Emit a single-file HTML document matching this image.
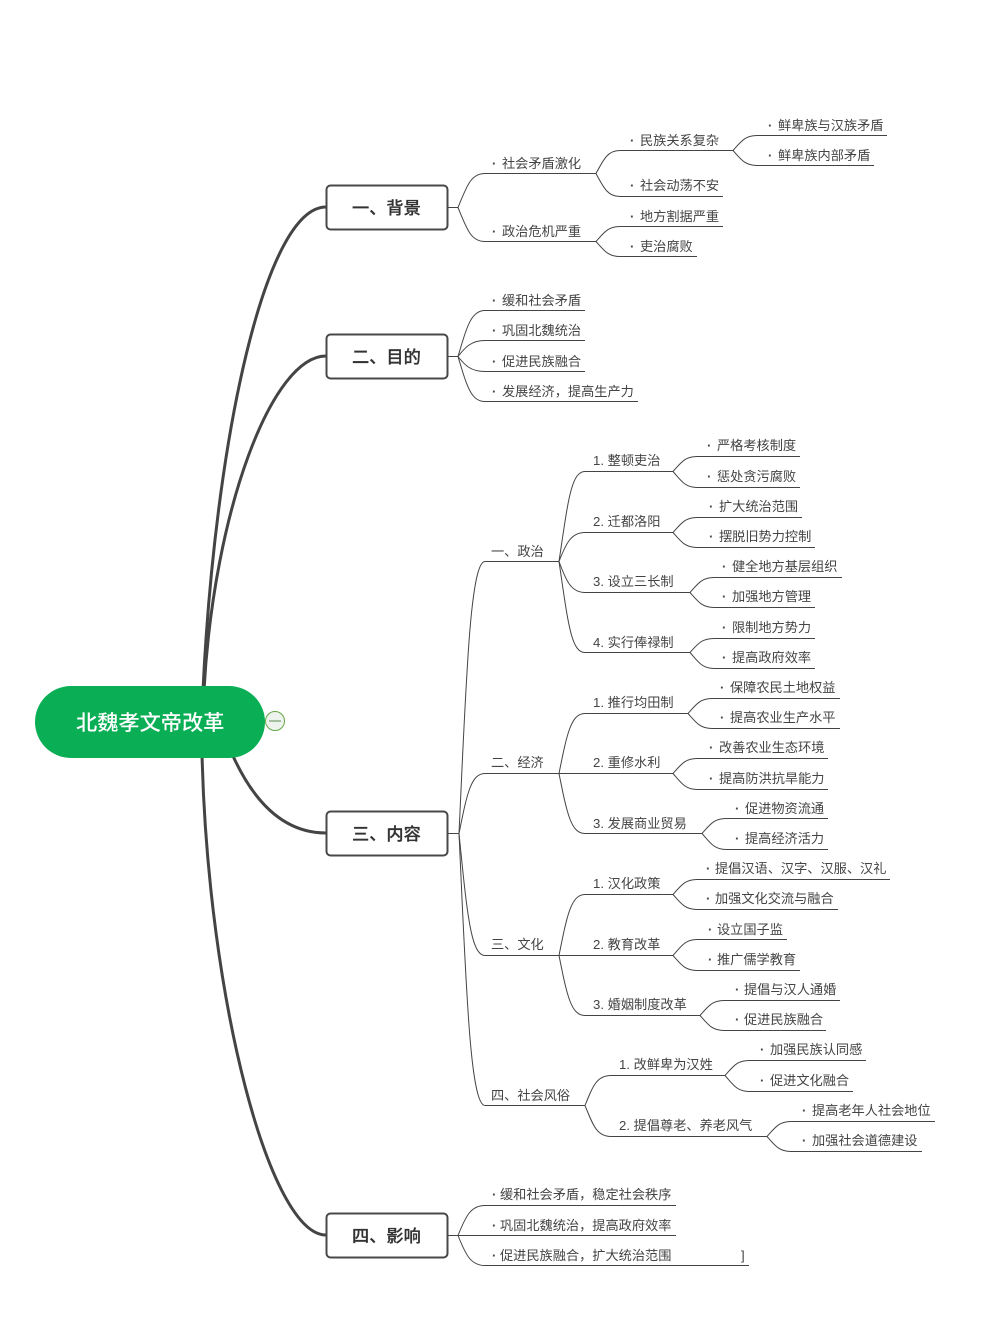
<!DOCTYPE html>
<html lang="zh">
<head>
<meta charset="utf-8">
<title>北魏孝文帝改革</title>
<style>
html,body{margin:0;padding:0;background:#fff;width:1000px;height:1331px;overflow:hidden}
svg{display:block}
text{font-family:"Liberation Sans","Noto Sans CJK SC",sans-serif;font-size:13.2px;fill:#444}
.b{font-size:17.2px;font-weight:500;fill:#333;stroke:#333;stroke-width:.25}
.r{font-size:21.2px;font-weight:500;fill:#fff}
.d{font-weight:700}
.l{fill:none;stroke:#444;stroke-width:1}
.m{fill:none;stroke:#444;stroke-width:3}
.box{fill:#fff;stroke:#484848;stroke-width:2}
</style>
</head>
<body>
<svg width="1000" height="1331" viewBox="0 0 1000 1331" xmlns="http://www.w3.org/2000/svg">
<!-- main connectors -->
<path class="m" d="M203 690C215 440 265 207 326 207"/>
<path class="m" d="M204 690C214 510 272 356 326 356"/>
<path class="m" d="M233 756C254 802 284 833 326 833"/>
<path class="m" d="M202 754C208 1000 270 1235 326 1235"/>
<!-- root -->
<rect x="35" y="686" width="230" height="72" rx="36" ry="36" fill="#0aae54"/>
<text class="r" x="76" y="730">北魏孝文帝改革</text>
<circle cx="275" cy="721" r="9.5" fill="#eef3ee" stroke="#63a845" stroke-width="1"/>
<path d="M269 721H281" stroke="#5c8a50" stroke-width="1"/>
<!-- boxes -->
<rect class="box" x="326.500" y="185.500" width="121" height="44" rx="4"/>
<rect class="box" x="326.500" y="334.500" width="121" height="44" rx="4"/>
<rect class="box" x="326.500" y="811.500" width="121" height="44" rx="4"/>
<rect class="box" x="326.500" y="1213.500" width="121" height="44" rx="4"/>
<text class="b" x="352" y="214">一、背景</text>
<text class="b" x="352" y="363">二、目的</text>
<text class="b" x="352" y="840">三、内容</text>
<text class="b" x="352" y="1242">四、影响</text>

<g transform="translate(0,.5)">
<!-- box 1 -->
<path class="l" d="M447 207H458c9 -22 13 -34 27 -34H596"/>
<path class="l" d="M458 207c9 22 13 34 27 34H596"/>
<path class="l" d="M596 173c8 -15 12 -23 24 -23H733"/>
<path class="l" d="M596 173c8 15 12 23 24 23H723"/>
<path class="l" d="M596 241c8 -9 12 -15 24 -15H723"/>
<path class="l" d="M596 241c8 9 12 15 24 15H697"/>
<path class="l" d="M733 150c8 -9 12 -15 24 -15H887"/>
<path class="l" d="M733 150c8 9 12 15 24 15H874"/>
<!-- box 2 -->
<path class="l" d="M447 356H458c9 -30 13 -46 27 -46H585"/>
<path class="l" d="M458 356c7 -9 13 -16 27 -16H585"/>
<path class="l" d="M458 356c7 9 13 15 27 15H585"/>
<path class="l" d="M458 356c9 30 13 45 27 45H638"/>
<!-- box 3 -->
<path class="l" d="M447 833H459c7 -150 11 -272 26 -272H559"/>
<path class="l" d="M459 833c8 -40 12 -60 26 -60H559"/>
<path class="l" d="M459 833c8 80 12 122 26 122H559"/>
<path class="l" d="M459 833c7 150 11 272 26 272H585"/>
<!-- politics -->
<path class="l" d="M559 561c9 -60 12 -90 26 -90H673"/>
<path class="l" d="M559 561c7 -18 12 -29 26 -29H673"/>
<path class="l" d="M559 561c7 19 12 31 26 31H690"/>
<path class="l" d="M559 561c9 61 12 91 26 91H690"/>
<path class="l" d="M673 471c8 -9 12 -15 24 -15H800"/>
<path class="l" d="M673 471c8 9 12 16 24 16H800"/>
<path class="l" d="M673 532c8 -9 12 -15 24 -15H802"/>
<path class="l" d="M673 532c8 9 12 15 24 15H815"/>
<path class="l" d="M690 592c8 -9 12 -15 24 -15H842"/>
<path class="l" d="M690 592c8 9 12 15 24 15H815"/>
<path class="l" d="M690 652c8 -9 12 -14 24 -14H815"/>
<path class="l" d="M690 652c8 9 12 16 24 16H815"/>
<!-- economy -->
<path class="l" d="M559 773c8 -40 12 -60 26 -60H688"/>
<path class="l" d="M559 773H673"/>
<path class="l" d="M559 773c8 40 12 60 26 60H702"/>
<path class="l" d="M688 713c8 -9 12 -15 24 -15H840"/>
<path class="l" d="M688 713c8 9 12 15 24 15H840"/>
<path class="l" d="M673 773c8 -9 12 -15 24 -15H828"/>
<path class="l" d="M673 773c8 9 12 16 24 16H828"/>
<path class="l" d="M702 833c8 -9 12 -15 24 -15H828"/>
<path class="l" d="M702 833c8 9 12 16 24 16H828"/>
<!-- culture -->
<path class="l" d="M559 955c8 -40 12 -61 26 -61H673"/>
<path class="l" d="M559 955H673"/>
<path class="l" d="M559 955c8 40 12 60 26 60H700"/>
<path class="l" d="M673 894c8 -9 12 -15 24 -15H890"/>
<path class="l" d="M673 894c8 9 12 15 24 15H838"/>
<path class="l" d="M673 955c8 -9 12 -16 24 -16H787"/>
<path class="l" d="M673 955c8 9 12 15 24 15H800"/>
<path class="l" d="M700 1015c8 -9 12 -15 24 -15H840"/>
<path class="l" d="M700 1015c8 9 12 15 24 15H826"/>
<!-- customs -->
<path class="l" d="M585 1105c8 -20 12 -30 26 -30H725"/>
<path class="l" d="M585 1105c8 20 12 31 26 31H767"/>
<path class="l" d="M725 1075c8 -9 12 -15 24 -15H866"/>
<path class="l" d="M725 1075c8 9 12 16 24 16H853"/>
<path class="l" d="M767 1136c8 -9 12 -15 24 -15H935"/>
<path class="l" d="M767 1136c8 9 12 15 24 15H922"/>
<!-- box 4 -->
<path class="l" d="M447 1235H458c8 -20 13 -30 27 -30H676"/>
<path class="l" d="M458 1235H676"/>
<path class="l" d="M458 1235c8 20 13 30 27 30H749"/>
</g>

<!-- labels -->
<text y="168"><tspan x="492" class="d">·</tspan><tspan x="502">社会矛盾激化</tspan></text>
<text y="236"><tspan x="492" class="d">·</tspan><tspan x="502">政治危机严重</tspan></text>
<text y="145"><tspan x="630" class="d">·</tspan><tspan x="640">民族关系复杂</tspan></text>
<text y="190"><tspan x="630" class="d">·</tspan><tspan x="640">社会动荡不安</tspan></text>
<text y="221"><tspan x="630" class="d">·</tspan><tspan x="640">地方割据严重</tspan></text>
<text y="251"><tspan x="630" class="d">·</tspan><tspan x="640">吏治腐败</tspan></text>
<text y="130"><tspan x="768" class="d">·</tspan><tspan x="778">鲜卑族与汉族矛盾</tspan></text>
<text y="160"><tspan x="768" class="d">·</tspan><tspan x="778">鲜卑族内部矛盾</tspan></text>

<text y="305"><tspan x="492" class="d">·</tspan><tspan x="502">缓和社会矛盾</tspan></text>
<text y="335"><tspan x="492" class="d">·</tspan><tspan x="502">巩固北魏统治</tspan></text>
<text y="366"><tspan x="492" class="d">·</tspan><tspan x="502">促进民族融合</tspan></text>
<text y="396"><tspan x="492" class="d">·</tspan><tspan x="502">发展经济，提高生产力</tspan></text>

<text x="491" y="556">一、政治</text>
<text x="491" y="767">二、经济</text>
<text x="491" y="949">三、文化</text>
<text x="491" y="1100">四、社会风俗</text>

<text x="593" y="465">1. 整顿吏治</text>
<text x="593" y="526">2. 迁都洛阳</text>
<text x="593" y="586">3. 设立三长制</text>
<text x="593" y="647">4. 实行俸禄制</text>
<text x="593" y="707">1. 推行均田制</text>
<text x="593" y="767">2. 重修水利</text>
<text x="593" y="828">3. 发展商业贸易</text>
<text x="593" y="888">1. 汉化政策</text>
<text x="593" y="949">2. 教育改革</text>
<text x="593" y="1009">3. 婚姻制度改革</text>
<text x="619" y="1069">1. 改鲜卑为汉姓</text>
<text x="619" y="1130">2. 提倡尊老、养老风气</text>

<text y="450"><tspan x="707" class="d">·</tspan><tspan x="717">严格考核制度</tspan></text>
<text y="481"><tspan x="707" class="d">·</tspan><tspan x="717">惩处贪污腐败</tspan></text>
<text y="511"><tspan x="709" class="d">·</tspan><tspan x="719">扩大统治范围</tspan></text>
<text y="541"><tspan x="709" class="d">·</tspan><tspan x="719">摆脱旧势力控制</tspan></text>
<text y="571"><tspan x="722" class="d">·</tspan><tspan x="732">健全地方基层组织</tspan></text>
<text y="601"><tspan x="722" class="d">·</tspan><tspan x="732">加强地方管理</tspan></text>
<text y="632"><tspan x="722" class="d">·</tspan><tspan x="732">限制地方势力</tspan></text>
<text y="662"><tspan x="722" class="d">·</tspan><tspan x="732">提高政府效率</tspan></text>

<text y="692"><tspan x="720" class="d">·</tspan><tspan x="730">保障农民土地权益</tspan></text>
<text y="722"><tspan x="720" class="d">·</tspan><tspan x="730">提高农业生产水平</tspan></text>
<text y="752"><tspan x="709" class="d">·</tspan><tspan x="719">改善农业生态环境</tspan></text>
<text y="783"><tspan x="709" class="d">·</tspan><tspan x="719">提高防洪抗旱能力</tspan></text>
<text y="813"><tspan x="735" class="d">·</tspan><tspan x="745">促进物资流通</tspan></text>
<text y="843"><tspan x="735" class="d">·</tspan><tspan x="745">提高经济活力</tspan></text>

<text y="873"><tspan x="706" class="d">·</tspan><tspan x="715">提倡汉语、汉字、汉服、汉礼</tspan></text>
<text y="903"><tspan x="706" class="d">·</tspan><tspan x="715">加强文化交流与融合</tspan></text>
<text y="934"><tspan x="708" class="d">·</tspan><tspan x="717">设立国子监</tspan></text>
<text y="964"><tspan x="708" class="d">·</tspan><tspan x="717">推广儒学教育</tspan></text>
<text y="994"><tspan x="735" class="d">·</tspan><tspan x="744">提倡与汉人通婚</tspan></text>
<text y="1024"><tspan x="735" class="d">·</tspan><tspan x="744">促进民族融合</tspan></text>

<text y="1054"><tspan x="760" class="d">·</tspan><tspan x="770">加强民族认同感</tspan></text>
<text y="1085"><tspan x="760" class="d">·</tspan><tspan x="770">促进文化融合</tspan></text>
<text y="1115"><tspan x="802" class="d">·</tspan><tspan x="812">提高老年人社会地位</tspan></text>
<text y="1145"><tspan x="802" class="d">·</tspan><tspan x="812">加强社会道德建设</tspan></text>

<text y="1199"><tspan x="492" class="d">·</tspan><tspan x="500">缓和社会矛盾，稳定社会秩序</tspan></text>
<text y="1230"><tspan x="492" class="d">·</tspan><tspan x="500">巩固北魏统治，提高政府效率</tspan></text>
<text y="1260"><tspan x="492" class="d">·</tspan><tspan x="500">促进民族融合，扩大统治范围</tspan><tspan x="741">]</tspan></text>
</svg>
</body>
</html>
